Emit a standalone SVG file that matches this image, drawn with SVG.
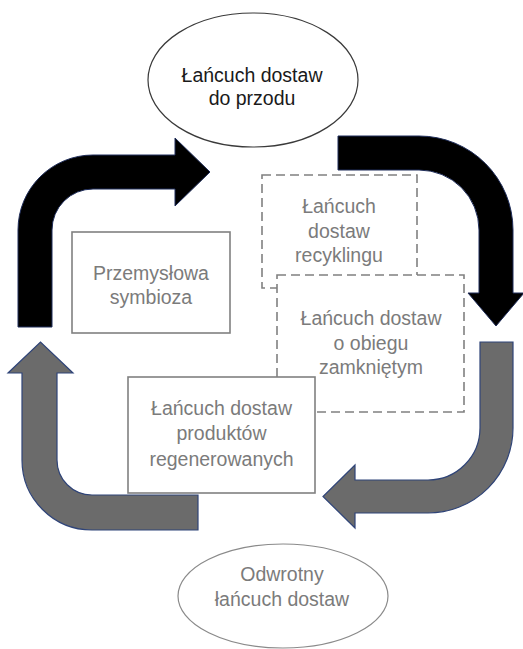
<svg xmlns="http://www.w3.org/2000/svg" width="523" height="649" viewBox="0 0 523 649">
  <style>
    text { font-family: "Liberation Sans", Arial, sans-serif; font-size: 19.5px; text-anchor: middle; }
    .dark { fill: #1a1a1a; }
    .grey { fill: #7b7b7b; }
    .box { fill: #ffffff; stroke: #808080; stroke-width: 1.6; }
    .dash { fill: #ffffff; stroke: #808080; stroke-width: 1.6; stroke-dasharray: 9 5; }
    .black-arrow { fill: #000000; stroke: #1f2d5a; stroke-width: 1; }
    .grey-arrow { fill: #6b6b6b; stroke: #2f4478; stroke-width: 1.2; }
  </style>

  <!-- curved cycle arrows -->
  <g id="connectors">
    <path class="black-arrow" d="M18,327 L18,230 A75,75 0 0 1 93,155 L175,155 L175,138 L210,172 L175,206 L175,189 L93,189 A41,41 0 0 0 52,230 L52,327 Z"/>
    <path class="black-arrow" d="M338,136 L419,136 A94,94 0 0 1 513,230 L513,293 L524,293 L496,326 L468,293 L479,293 L479,230 A60,60 0 0 0 419,170 L338,170 Z"/>
    <path class="grey-arrow" d="M480,342 L513,342 L513,428 A85,85 0 0 1 428,513 L355,513 L355,528 L323,496.5 L355,465 L355,480 L428,480 A52,52 0 0 0 480,428 Z"/>
    <path class="grey-arrow" d="M198,495 L198,530 L92,530 A70,70 0 0 1 22,460 L22,373 L8,373 L40.5,342 L73,373 L57,373 L57,460 A35,35 0 0 0 92,495 Z"/>
  </g>

  <g id="forward">
    <ellipse cx="253" cy="80" rx="105" ry="67" fill="#ffffff" stroke="#3a3a3a" stroke-width="1.2"/>
    <text class="dark" x="252" y="82">Łańcuch dostaw</text>
    <text class="dark" x="252" y="105">do przodu</text>
  </g>

  <g id="symbiosis">
    <rect class="box" x="72" y="232" width="158" height="101"/>
    <text class="grey" x="151" y="280">Przemysłowa</text>
    <text class="grey" x="151" y="304">symbioza</text>
  </g>

  <g id="recycling">
    <rect class="dash" x="262" y="175" width="155" height="113"/>
    <text class="grey" x="339" y="213">Łańcuch</text>
    <text class="grey" x="339" y="238">dostaw</text>
    <text class="grey" x="339" y="262">recyklingu</text>
  </g>

  <g id="closed-loop">
    <rect class="dash" x="277" y="275" width="187" height="137"/>
    <text class="grey" x="371" y="325">Łańcuch dostaw</text>
    <text class="grey" x="371" y="350">o obiegu</text>
    <text class="grey" x="371" y="374">zamkniętym</text>
  </g>

  <g id="remanufactured">
    <rect class="box" x="128" y="377" width="187" height="116"/>
    <text class="grey" x="221.5" y="415">Łańcuch dostaw</text>
    <text class="grey" x="221.5" y="440">produktów</text>
    <text class="grey" x="221.5" y="466">regenerowanych</text>
  </g>

  <g id="reverse">
    <ellipse cx="283" cy="596" rx="105" ry="52" fill="#ffffff" stroke="#8a8a8a" stroke-width="1.2"/>
    <text class="grey" x="282" y="581">Odwrotny</text>
    <text class="grey" x="282" y="606">łańcuch dostaw</text>
  </g>
</svg>
